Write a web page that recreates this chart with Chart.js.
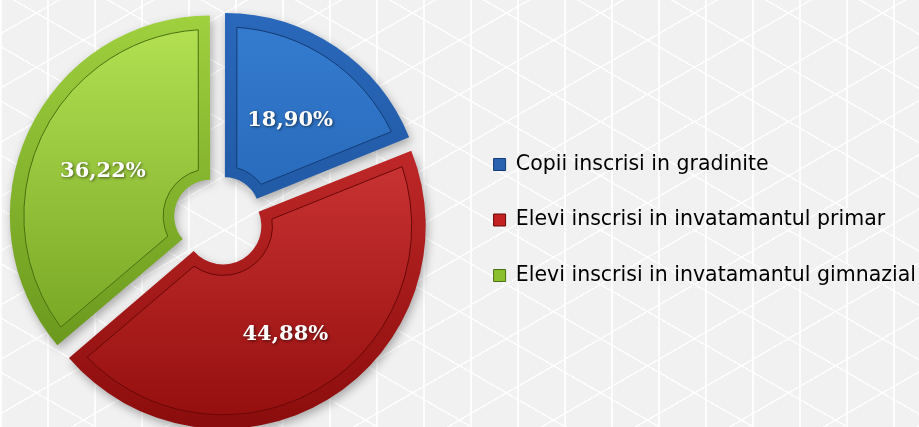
<!DOCTYPE html>
<html>
<head>
<meta charset="utf-8">
<script src="https://cdn.jsdelivr.net/npm/chart.js@4.4.1/dist/chart.umd.min.js"></script>
<style>
    html, body { margin: 0; padding: 0; }
    body {
        position: relative;
        width: 919px;
        height: 427px;
        overflow: hidden;
        background-color: #f1f1f1;
        background-image:
            repeating-linear-gradient(90deg, rgba(255,255,255,0.85) 0 1.5px, transparent 1.5px 47px),
            repeating-linear-gradient(30deg, rgba(255,255,255,0.85) 0 1.5px, transparent 1.5px 47px),
            repeating-linear-gradient(-30deg, rgba(255,255,255,0.85) 0 1.5px, transparent 1.5px 47px);
    }
    /* canvas starts a little left of the page so the pie sits where it should */
    #wrap { position: absolute; left: -20px; top: 0; width: 939px; height: 427px; }
</style>
</head>
<body>
<div id="wrap"><canvas id="share-chart"></canvas></div>
<script>
const categories = [
    'Copii inscrisi in gradinite',
    'Elevi inscrisi in invatamantul primar',
    'Elevi inscrisi in invatamantul gimnazial'
];
const shares = [18.90, 44.88, 36.22];

const rimTop = ['#2a68bb', '#d63434', '#9fd03e'];
const rimBottom = ['#174a8c', '#8a0c0c', '#5f8c16'];
const faceTop = ['#347bcf', '#e24444', '#b2e052'];
const faceBottom = ['#1b56a3', '#960f0f', '#6b9a1b'];
const edgeColor = ['#123c75', '#6a0707', '#4a7110'];
const legendColors = ['#2a62b0', '#c42222', '#8cbf2e'];
// explosion per slice (chart.js also grows the radius of wide slices)
const sliceOffsets = [40, 28, 40];

function pctText(v) {
    return v.toFixed(2).replace('.', ',') + '%';
}

function vGradient(ctx, top, bottom, c1, c2) {
    const g = ctx.createLinearGradient(0, top, 0, bottom);
    g.addColorStop(0, c1);
    g.addColorStop(1, c2);
    return g;
}

// shadow under the slices, bevelled face on top and the percentage labels
const slicePlugin = {
    id: 'slices',
    beforeDatasetsDraw(chart) {
        const ctx = chart.ctx;
        ctx.save();
        ctx.shadowColor = 'rgba(0,0,0,0.3)';
        ctx.shadowBlur = 10;
        ctx.shadowOffsetX = 2;
        ctx.shadowOffsetY = 4;
    },
    afterDatasetsDraw(chart) {
        const ctx = chart.ctx;
        ctx.restore();
        const arcs = chart.getDatasetMeta(0).data;
        arcs.forEach((arc, i) => {
            const {x, y, startAngle, endAngle, innerRadius, outerRadius} = arc;
            const mid = (startAngle + endAngle) / 2;
            const t = (arc.options.offset || 0) / 4;
            const fix = 1 - Math.sin(Math.min(Math.PI, endAngle - startAngle));
            const ro = t * fix;
            const cx = x + Math.cos(mid) * t;
            const cy = y + Math.sin(mid) * t;
            const R = outerRadius + ro - 14;
            const r = innerRadius + ro + 11;
            const d = 12;

            ctx.save();
            ctx.beginPath();
            ctx.arc(cx, cy, R, startAngle + d / R, endAngle - d / R);
            ctx.arc(cx, cy, r, endAngle - d / r, startAngle + d / r, true);
            ctx.closePath();
            ctx.fillStyle = vGradient(ctx, cy - R, cy + R, faceTop[i], faceBottom[i]);
            ctx.fill();
            ctx.lineWidth = 1;
            ctx.strokeStyle = edgeColor[i];
            ctx.stroke();
            ctx.restore();

            const lr = (innerRadius + outerRadius) / 2 + ro;
            ctx.save();
            ctx.font = 'bold 21px "DejaVu Serif"';
            ctx.fillStyle = '#ffffff';
            ctx.textAlign = 'center';
            ctx.textBaseline = 'middle';
            ctx.shadowColor = 'rgba(0,0,0,0.55)';
            ctx.shadowBlur = 3;
            ctx.shadowOffsetX = 1;
            ctx.shadowOffsetY = 1;
            ctx.fillText(pctText(shares[i]), cx + Math.cos(mid) * lr, cy + Math.sin(mid) * lr + 5);
            ctx.restore();
        });
    }
};

new Chart(document.getElementById('share-chart'), {
    type: 'doughnut',
    data: {
        labels: categories,
        datasets: [{
            data: shares,
            backgroundColor: function (context) {
                const chart = context.chart;
                const area = chart.chartArea;
                if (!area) return rimTop[context.dataIndex];
                return vGradient(chart.ctx, 20, 427, rimTop[context.dataIndex], rimBottom[context.dataIndex]);
            },
            borderWidth: 0,
            offset: sliceOffsets,
            hoverOffset: 0,
        }]
    },
    options: {
        responsive: true,
        maintainAspectRatio: false,
        animation: false,
        radius: 198,
        cutout: '17%',
        layout: {
            padding: { top: 13, left: 0, right: -7, bottom: 0 }
        },
        plugins: {
            tooltip: { enabled: false },
            legend: {
                position: 'right',
                align: 'center',
                labels: {
                    boxWidth: 12,
                    boxHeight: 12,
                    padding: 35,
                    color: '#111111',
                    font: { family: 'DejaVu Sans', size: 20.5 },
                    generateLabels: function () {
                        return categories.map((c, i) => ({
                            text: c,
                            fillStyle: legendColors[i],
                            strokeStyle: edgeColor[i],
                            lineWidth: 1,
                            hidden: false,
                            index: i
                        }));
                    }
                }
            }
        }
    },
    plugins: [slicePlugin]
});
</script>
</body>
</html>
